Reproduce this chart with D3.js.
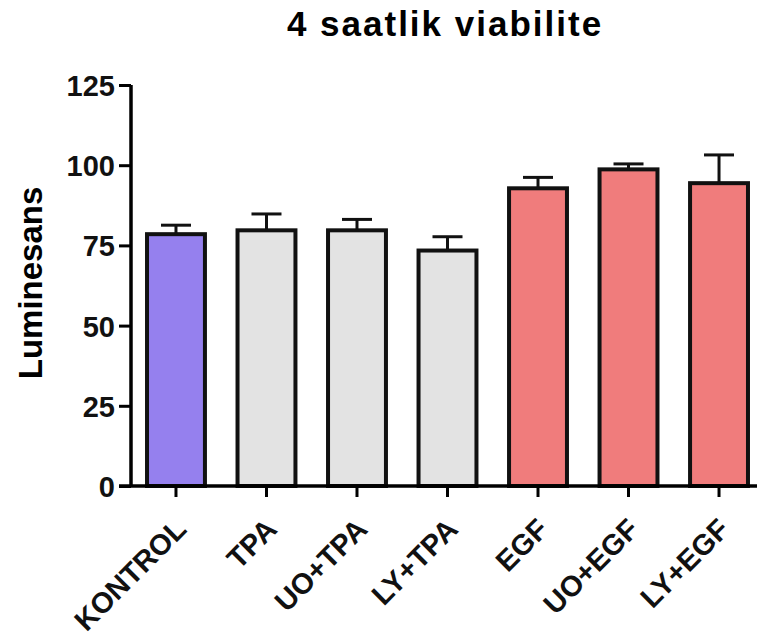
<!DOCTYPE html>
<html>
<head>
<meta charset="utf-8">
<script src="https://cdn.jsdelivr.net/npm/d3@7"></script>
<style>
  body { margin: 0; background: #fff; }
  svg { display: block; font-family: "Liberation Sans", Arial, sans-serif; }
</style>
</head>
<body>
<div id="chart"></div>
<script>
const categories = ["KONTROL", "TPA", "UO+TPA", "LY+TPA", "EGF", "UO+EGF", "LY+EGF"];
const means = [78.5, 79.7, 79.7, 73.4, 92.8, 98.7, 94.4];
const errors = [2.8, 5.1, 3.4, 4.3, 3.4, 1.7, 8.8];
const groups = ["control", "tpa", "tpa", "tpa", "egf", "egf", "egf"];
const yTicks = [0, 25, 50, 75, 100, 125];

const groupColors = { control: "#9580EE", tpa: "#E3E3E3", egf: "#F07C7C" };

const width = 757, height = 638;
const x0 = 131, yTop = 85, yBase = 486;

const svg = d3.select("#chart").append("svg")
    .attr("width", width)
    .attr("height", height);

const x = d3.scaleBand()
    .domain(categories)
    .range([x0, 764])
    .paddingInner(0.36)
    .paddingOuter(0.177);

const y = d3.scaleLinear()
    .domain([0, 125])
    .range([yBase, yTop]);

// title
svg.append("text")
    .attr("x", 445)
    .attr("y", 36)
    .attr("text-anchor", "middle")
    .style("font-size", "35px")
    .style("font-weight", "bold")
    .style("letter-spacing", "2px")
    .text("4 saatlik viabilite");

// y label
svg.append("text")
    .attr("transform", `translate(42,283)rotate(-90)`)
    .attr("text-anchor", "middle")
    .style("font-size", "33px")
    .style("font-weight", "bold")
    .text("Luminesans");

// bars
const bars = svg.append("g");
bars.selectAll("rect")
    .data(categories)
    .enter()
    .append("rect")
    .attr("x", d => x(d))
    .attr("y", (d, i) => y(means[i]))
    .attr("width", x.bandwidth())
    .attr("height", (d, i) => yBase - y(means[i]))
    .attr("fill", (d, i) => groupColors[groups[i]])
    .attr("stroke", "#111")
    .attr("stroke-width", 4);

// error bars
const errG = svg.append("g")
    .attr("stroke", "#111")
    .attr("stroke-width", 3);
categories.forEach((c, i) => {
    const cx = x(c) + x.bandwidth() / 2;
    errG.append("line")
        .attr("x1", cx).attr("x2", cx)
        .attr("y1", y(means[i])).attr("y2", y(means[i] + errors[i]));
    errG.append("line")
        .attr("x1", cx - 15).attr("x2", cx + 15)
        .attr("y1", y(means[i] + errors[i])).attr("y2", y(means[i] + errors[i]));
});

// y axis
const yAxis = svg.append("g")
    .attr("transform", `translate(${x0},0)`)
    .call(d3.axisLeft(y).tickValues(yTicks).tickSize(12).tickPadding(4));
yAxis.select(".domain").attr("stroke-width", 3.5).attr("d", `M0,${yTop}V${yBase}`);
yAxis.selectAll(".tick line").attr("stroke-width", 3);
yAxis.selectAll("text")
    .style("font-size", "29px")
    .style("font-weight", "bold")
    .style("font-family", "'Liberation Sans', Arial, sans-serif")
    .attr("fill", "#111")
    .attr("dy", "0.36em");

// x axis
const xAxis = svg.append("g")
    .attr("transform", `translate(0,${yBase})`)
    .call(d3.axisBottom(x).tickSize(11));
xAxis.select(".domain").attr("stroke-width", 3.5).attr("d", `M${x0 - 12},0H${width}`);
xAxis.selectAll(".tick line").attr("stroke-width", 3);
xAxis.selectAll("text")
    .style("font-size", "29px")
    .style("font-weight", "bold")
    .style("font-family", "'Liberation Sans', Arial, sans-serif")
    .attr("fill", "#111")
    .attr("text-anchor", "end")
    .attr("x", 0).attr("y", 0).attr("dy", 0)
    .attr("transform", "translate(12,45)rotate(-45)");
</script>
</body>
</html>
